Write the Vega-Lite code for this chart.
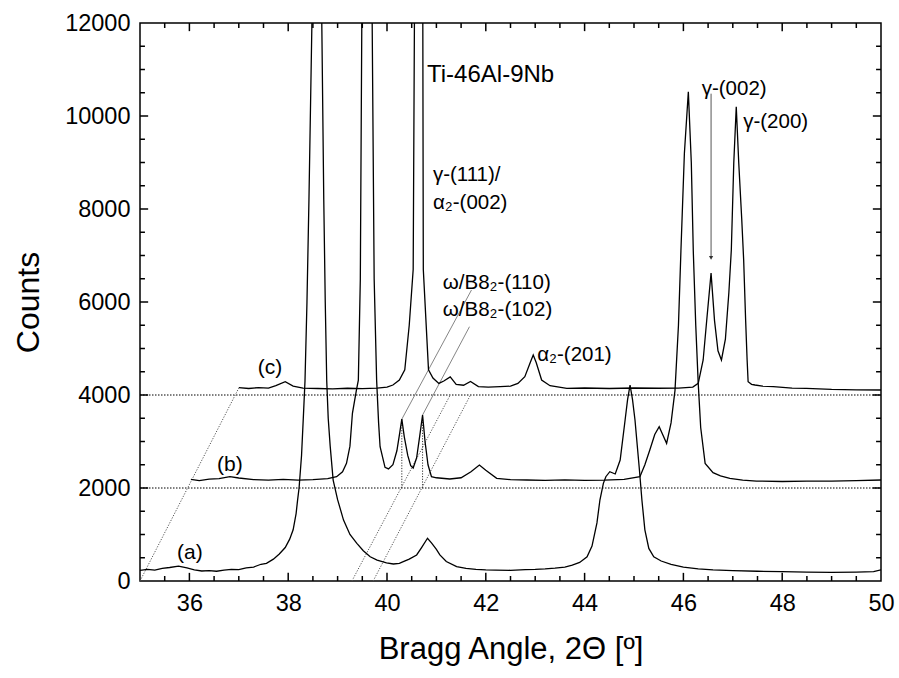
{
  "$schema": "https://vega.github.io/schema/vega-lite/v6.json",
  "width": 741,
  "height": 558,
  "autosize": {"type": "none"},
  "padding": {"left": 140, "top": 23, "right": 18, "bottom": 97},
  "background": "white",
  "config": {
    "view": {"stroke": "black", "strokeWidth": 1.5},
    "font": "Liberation Sans",
    "axis": {
      "grid": false, "domain": false, "ticks": false,
      "labelColor": "black", "labelFont": "Liberation Sans", "labelFontSize": 23.5,
      "labelFlush": false, "labelOverlap": false,
      "titleFont": "Liberation Sans", "titleFontWeight": "normal", "titleColor": "black"
    }
  },
  "datasets": {
    "xt": [
      {"v": 36, "m": "major"}, {"v": 38, "m": "major"}, {"v": 40, "m": "major"}, {"v": 42, "m": "major"},
      {"v": 44, "m": "major"}, {"v": 46, "m": "major"}, {"v": 48, "m": "major"},
      {"v": 35.5, "m": "minor"}, {"v": 36.5, "m": "minor"}, {"v": 37, "m": "minor"}, {"v": 37.5, "m": "minor"},
      {"v": 38.5, "m": "minor"}, {"v": 39, "m": "minor"}, {"v": 39.5, "m": "minor"}, {"v": 40.5, "m": "minor"},
      {"v": 41, "m": "minor"}, {"v": 41.5, "m": "minor"}, {"v": 42.5, "m": "minor"}, {"v": 43, "m": "minor"},
      {"v": 43.5, "m": "minor"}, {"v": 44.5, "m": "minor"}, {"v": 45, "m": "minor"}, {"v": 45.5, "m": "minor"},
      {"v": 46.5, "m": "minor"}, {"v": 47, "m": "minor"}, {"v": 47.5, "m": "minor"}, {"v": 48.5, "m": "minor"},
      {"v": 49, "m": "minor"}, {"v": 49.5, "m": "minor"}
    ],
    "yt": [
      {"v": 2000, "m": "major"}, {"v": 4000, "m": "major"}, {"v": 6000, "m": "major"}, {"v": 8000, "m": "major"},
      {"v": 10000, "m": "major"},
      {"v": 500, "m": "minor"}, {"v": 1000, "m": "minor"}, {"v": 1500, "m": "minor"}, {"v": 2500, "m": "minor"},
      {"v": 3000, "m": "minor"}, {"v": 3500, "m": "minor"}, {"v": 4500, "m": "minor"}, {"v": 5000, "m": "minor"},
      {"v": 5500, "m": "minor"}, {"v": 6500, "m": "minor"}, {"v": 7000, "m": "minor"}, {"v": 7500, "m": "minor"},
      {"v": 8500, "m": "minor"}, {"v": 9000, "m": "minor"}, {"v": 9500, "m": "minor"}, {"v": 10500, "m": "minor"},
      {"v": 11000, "m": "minor"}, {"v": 11500, "m": "minor"}
    ],
    "guides": [
      {"g": "h2", "k": "h", "x": 35, "y": 2000}, {"g": "h2", "k": "h", "x": 50, "y": 2000},
      {"g": "h4", "k": "h", "x": 35, "y": 4000}, {"g": "h4", "k": "h", "x": 50, "y": 4000},
      {"g": "d0", "k": "d", "x": 35.0, "y": 0}, {"g": "d0", "k": "d", "x": 37.0, "y": 4150},
      {"g": "d1", "k": "d", "x": 39.29, "y": 0}, {"g": "d1", "k": "d", "x": 41.28, "y": 4000},
      {"g": "d2", "k": "d", "x": 39.72, "y": 0}, {"g": "d2", "k": "d", "x": 41.69, "y": 4000},
      {"g": "s1", "k": "s", "x": 40.30, "y": 3480}, {"g": "s1", "k": "s", "x": 41.71, "y": 6258},
      {"g": "s2", "k": "s", "x": 40.72, "y": 3570}, {"g": "s2", "k": "s", "x": 41.67, "y": 5469},
      {"g": "v1", "k": "v", "x": 40.30, "y": 2000}, {"g": "v1", "k": "v", "x": 40.30, "y": 3480},
      {"g": "v2", "k": "v", "x": 40.72, "y": 2000}, {"g": "v2", "k": "v", "x": 40.72, "y": 3570},
      {"g": "a1", "k": "a", "x": 46.56, "y": 10480}, {"g": "a1", "k": "a", "x": 46.56, "y": 6950},
      {"g": "head", "k": "head", "x": 46.56, "y": 6950}
    ],
    "curves": [
      {"s": "a", "x": 35.0, "y": 230}, {"s": "a", "x": 35.15, "y": 250}, {"s": "a", "x": 35.3, "y": 235},
      {"s": "a", "x": 35.45, "y": 270}, {"s": "a", "x": 35.6, "y": 290}, {"s": "a", "x": 35.78, "y": 320},
      {"s": "a", "x": 35.95, "y": 280}, {"s": "a", "x": 36.1, "y": 240}, {"s": "a", "x": 36.25, "y": 215},
      {"s": "a", "x": 36.4, "y": 225}, {"s": "a", "x": 36.55, "y": 210}, {"s": "a", "x": 36.7, "y": 235},
      {"s": "a", "x": 36.85, "y": 250}, {"s": "a", "x": 37.0, "y": 245}, {"s": "a", "x": 37.15, "y": 280},
      {"s": "a", "x": 37.3, "y": 300}, {"s": "a", "x": 37.45, "y": 360}, {"s": "a", "x": 37.56, "y": 380},
      {"s": "a", "x": 37.7, "y": 470}, {"s": "a", "x": 37.82, "y": 580}, {"s": "a", "x": 37.94, "y": 720},
      {"s": "a", "x": 38.03, "y": 900}, {"s": "a", "x": 38.1, "y": 1100}, {"s": "a", "x": 38.16, "y": 1450},
      {"s": "a", "x": 38.19, "y": 1740}, {"s": "a", "x": 38.22, "y": 2000}, {"s": "a", "x": 38.27, "y": 2700},
      {"s": "a", "x": 38.31, "y": 3600}, {"s": "a", "x": 38.34, "y": 4300}, {"s": "a", "x": 38.38, "y": 6000},
      {"s": "a", "x": 38.42, "y": 8200}, {"s": "a", "x": 38.48, "y": 12000}, {"s": "a", "x": 38.58, "y": 16000},
      {"s": "a", "x": 38.68, "y": 12000}, {"s": "a", "x": 38.72, "y": 8200}, {"s": "a", "x": 38.75, "y": 6000},
      {"s": "a", "x": 38.78, "y": 4300}, {"s": "a", "x": 38.81, "y": 3500}, {"s": "a", "x": 38.85, "y": 2900},
      {"s": "a", "x": 38.91, "y": 2170}, {"s": "a", "x": 39.0, "y": 1750}, {"s": "a", "x": 39.12, "y": 1310},
      {"s": "a", "x": 39.25, "y": 1000}, {"s": "a", "x": 39.39, "y": 810}, {"s": "a", "x": 39.52, "y": 650},
      {"s": "a", "x": 39.66, "y": 520}, {"s": "a", "x": 39.8, "y": 450}, {"s": "a", "x": 39.99, "y": 390},
      {"s": "a", "x": 40.13, "y": 366}, {"s": "a", "x": 40.25, "y": 380}, {"s": "a", "x": 40.33, "y": 415},
      {"s": "a", "x": 40.45, "y": 470}, {"s": "a", "x": 40.6, "y": 560}, {"s": "a", "x": 40.7, "y": 720},
      {"s": "a", "x": 40.82, "y": 920}, {"s": "a", "x": 40.9, "y": 820}, {"s": "a", "x": 41.0, "y": 680},
      {"s": "a", "x": 41.07, "y": 560}, {"s": "a", "x": 41.2, "y": 420}, {"s": "a", "x": 41.41, "y": 310},
      {"s": "a", "x": 41.6, "y": 270}, {"s": "a", "x": 41.8, "y": 250}, {"s": "a", "x": 42.0, "y": 240},
      {"s": "a", "x": 42.2, "y": 235}, {"s": "a", "x": 42.5, "y": 230}, {"s": "a", "x": 42.8, "y": 245},
      {"s": "a", "x": 43.0, "y": 250}, {"s": "a", "x": 43.2, "y": 260}, {"s": "a", "x": 43.4, "y": 275},
      {"s": "a", "x": 43.6, "y": 300}, {"s": "a", "x": 43.75, "y": 340}, {"s": "a", "x": 43.9, "y": 400},
      {"s": "a", "x": 44.05, "y": 520}, {"s": "a", "x": 44.15, "y": 750}, {"s": "a", "x": 44.25, "y": 1250},
      {"s": "a", "x": 44.31, "y": 1742}, {"s": "a", "x": 44.38, "y": 2100}, {"s": "a", "x": 44.43, "y": 2243},
      {"s": "a", "x": 44.51, "y": 2351}, {"s": "a", "x": 44.62, "y": 2301}, {"s": "a", "x": 44.72, "y": 2602},
      {"s": "a", "x": 44.82, "y": 3462}, {"s": "a", "x": 44.87, "y": 3900}, {"s": "a", "x": 44.92, "y": 4215},
      {"s": "a", "x": 44.97, "y": 3900}, {"s": "a", "x": 45.02, "y": 3462}, {"s": "a", "x": 45.11, "y": 2387},
      {"s": "a", "x": 45.16, "y": 1742}, {"s": "a", "x": 45.22, "y": 1100}, {"s": "a", "x": 45.3, "y": 700},
      {"s": "a", "x": 45.4, "y": 520}, {"s": "a", "x": 45.55, "y": 430}, {"s": "a", "x": 45.75, "y": 360},
      {"s": "a", "x": 46.0, "y": 300}, {"s": "a", "x": 46.3, "y": 260}, {"s": "a", "x": 46.6, "y": 240},
      {"s": "a", "x": 47.0, "y": 225}, {"s": "a", "x": 47.5, "y": 210}, {"s": "a", "x": 48.0, "y": 200},
      {"s": "a", "x": 48.5, "y": 190}, {"s": "a", "x": 49.0, "y": 185}, {"s": "a", "x": 49.5, "y": 190},
      {"s": "a", "x": 49.85, "y": 200}, {"s": "a", "x": 50.0, "y": 240},

      {"s": "b", "x": 36.03, "y": 2187}, {"s": "b", "x": 36.2, "y": 2160}, {"s": "b", "x": 36.4, "y": 2190},
      {"s": "b", "x": 36.6, "y": 2200}, {"s": "b", "x": 36.82, "y": 2243}, {"s": "b", "x": 37.0, "y": 2215},
      {"s": "b", "x": 37.3, "y": 2180}, {"s": "b", "x": 37.6, "y": 2170}, {"s": "b", "x": 37.9, "y": 2185},
      {"s": "b", "x": 38.2, "y": 2170}, {"s": "b", "x": 38.5, "y": 2180}, {"s": "b", "x": 38.8, "y": 2200},
      {"s": "b", "x": 38.98, "y": 2243}, {"s": "b", "x": 39.1, "y": 2350}, {"s": "b", "x": 39.18, "y": 2531},
      {"s": "b", "x": 39.25, "y": 2900}, {"s": "b", "x": 39.3, "y": 3606}, {"s": "b", "x": 39.38, "y": 4100},
      {"s": "b", "x": 39.42, "y": 4320}, {"s": "b", "x": 39.46, "y": 6500}, {"s": "b", "x": 39.49, "y": 12000},
      {"s": "b", "x": 39.6, "y": 16000}, {"s": "b", "x": 39.70, "y": 12000}, {"s": "b", "x": 39.74, "y": 6500},
      {"s": "b", "x": 39.79, "y": 4320}, {"s": "b", "x": 39.83, "y": 3400}, {"s": "b", "x": 39.86, "y": 2888},
      {"s": "b", "x": 39.96, "y": 2443}, {"s": "b", "x": 40.03, "y": 2410}, {"s": "b", "x": 40.12, "y": 2500},
      {"s": "b", "x": 40.2, "y": 2800}, {"s": "b", "x": 40.26, "y": 3200}, {"s": "b", "x": 40.30, "y": 3480},
      {"s": "b", "x": 40.35, "y": 3100}, {"s": "b", "x": 40.42, "y": 2700}, {"s": "b", "x": 40.48, "y": 2480},
      {"s": "b", "x": 40.53, "y": 2430}, {"s": "b", "x": 40.6, "y": 2650}, {"s": "b", "x": 40.66, "y": 3100},
      {"s": "b", "x": 40.72, "y": 3570}, {"s": "b", "x": 40.77, "y": 3000}, {"s": "b", "x": 40.83, "y": 2500},
      {"s": "b", "x": 40.90, "y": 2243}, {"s": "b", "x": 41.0, "y": 2220}, {"s": "b", "x": 41.27, "y": 2194},
      {"s": "b", "x": 41.5, "y": 2220}, {"s": "b", "x": 41.7, "y": 2350}, {"s": "b", "x": 41.87, "y": 2495},
      {"s": "b", "x": 42.0, "y": 2380}, {"s": "b", "x": 42.22, "y": 2209}, {"s": "b", "x": 42.5, "y": 2180},
      {"s": "b", "x": 42.83, "y": 2172}, {"s": "b", "x": 43.2, "y": 2165}, {"s": "b", "x": 43.6, "y": 2175},
      {"s": "b", "x": 44.0, "y": 2165}, {"s": "b", "x": 44.4, "y": 2170}, {"s": "b", "x": 44.8, "y": 2185},
      {"s": "b", "x": 45.12, "y": 2243}, {"s": "b", "x": 45.22, "y": 2500}, {"s": "b", "x": 45.32, "y": 2817},
      {"s": "b", "x": 45.42, "y": 3150}, {"s": "b", "x": 45.51, "y": 3318}, {"s": "b", "x": 45.58, "y": 3150},
      {"s": "b", "x": 45.66, "y": 2961}, {"s": "b", "x": 45.75, "y": 3400}, {"s": "b", "x": 45.83, "y": 4100},
      {"s": "b", "x": 45.9, "y": 5500}, {"s": "b", "x": 45.95, "y": 7100}, {"s": "b", "x": 46.02, "y": 9200},
      {"s": "b", "x": 46.10, "y": 10520}, {"s": "b", "x": 46.16, "y": 9000}, {"s": "b", "x": 46.20, "y": 7100},
      {"s": "b", "x": 46.25, "y": 5500}, {"s": "b", "x": 46.30, "y": 4250}, {"s": "b", "x": 46.35, "y": 3300},
      {"s": "b", "x": 46.44, "y": 2530}, {"s": "b", "x": 46.6, "y": 2330}, {"s": "b", "x": 46.75, "y": 2260},
      {"s": "b", "x": 46.94, "y": 2209}, {"s": "b", "x": 47.2, "y": 2170}, {"s": "b", "x": 47.48, "y": 2150},
      {"s": "b", "x": 48.0, "y": 2140}, {"s": "b", "x": 48.5, "y": 2150}, {"s": "b", "x": 49.0, "y": 2150},
      {"s": "b", "x": 49.5, "y": 2160}, {"s": "b", "x": 50.0, "y": 2172},

      {"s": "c", "x": 37.0, "y": 4157}, {"s": "c", "x": 37.2, "y": 4140}, {"s": "c", "x": 37.4, "y": 4160},
      {"s": "c", "x": 37.6, "y": 4150}, {"s": "c", "x": 37.75, "y": 4200}, {"s": "c", "x": 37.94, "y": 4286},
      {"s": "c", "x": 38.1, "y": 4190}, {"s": "c", "x": 38.3, "y": 4150}, {"s": "c", "x": 38.6, "y": 4140},
      {"s": "c", "x": 38.9, "y": 4130}, {"s": "c", "x": 39.2, "y": 4145}, {"s": "c", "x": 39.5, "y": 4135},
      {"s": "c", "x": 39.8, "y": 4150}, {"s": "c", "x": 40.0, "y": 4170}, {"s": "c", "x": 40.12, "y": 4215},
      {"s": "c", "x": 40.25, "y": 4320}, {"s": "c", "x": 40.36, "y": 4540}, {"s": "c", "x": 40.45, "y": 5500},
      {"s": "c", "x": 40.53, "y": 6700}, {"s": "c", "x": 40.555, "y": 12000}, {"s": "c", "x": 40.64, "y": 16000},
      {"s": "c", "x": 40.725, "y": 12000}, {"s": "c", "x": 40.735, "y": 6700}, {"s": "c", "x": 40.84, "y": 4540},
      {"s": "c", "x": 40.93, "y": 4365}, {"s": "c", "x": 41.05, "y": 4250}, {"s": "c", "x": 41.15, "y": 4300},
      {"s": "c", "x": 41.28, "y": 4390}, {"s": "c", "x": 41.4, "y": 4230}, {"s": "c", "x": 41.55, "y": 4210},
      {"s": "c", "x": 41.69, "y": 4290}, {"s": "c", "x": 41.85, "y": 4180}, {"s": "c", "x": 42.05, "y": 4170},
      {"s": "c", "x": 42.29, "y": 4180}, {"s": "c", "x": 42.5, "y": 4190}, {"s": "c", "x": 42.65, "y": 4250},
      {"s": "c", "x": 42.79, "y": 4394}, {"s": "c", "x": 42.9, "y": 4700}, {"s": "c", "x": 42.96, "y": 4860},
      {"s": "c", "x": 43.02, "y": 4700}, {"s": "c", "x": 43.13, "y": 4323}, {"s": "c", "x": 43.3, "y": 4200},
      {"s": "c", "x": 43.64, "y": 4144}, {"s": "c", "x": 44.0, "y": 4150}, {"s": "c", "x": 44.5, "y": 4140},
      {"s": "c", "x": 45.0, "y": 4150}, {"s": "c", "x": 45.5, "y": 4145}, {"s": "c", "x": 45.9, "y": 4150},
      {"s": "c", "x": 46.19, "y": 4170}, {"s": "c", "x": 46.3, "y": 4251}, {"s": "c", "x": 46.40, "y": 4753},
      {"s": "c", "x": 46.48, "y": 5700}, {"s": "c", "x": 46.56, "y": 6620}, {"s": "c", "x": 46.63, "y": 5600},
      {"s": "c", "x": 46.7, "y": 4950}, {"s": "c", "x": 46.77, "y": 4753}, {"s": "c", "x": 46.85, "y": 5200},
      {"s": "c", "x": 46.92, "y": 6200}, {"s": "c", "x": 46.97, "y": 7118}, {"s": "c", "x": 47.02, "y": 9000},
      {"s": "c", "x": 47.07, "y": 10200}, {"s": "c", "x": 47.12, "y": 9000}, {"s": "c", "x": 47.18, "y": 7800},
      {"s": "c", "x": 47.22, "y": 6903}, {"s": "c", "x": 47.26, "y": 5600}, {"s": "c", "x": 47.29, "y": 4753},
      {"s": "c", "x": 47.31, "y": 4286}, {"s": "c", "x": 47.38, "y": 4230}, {"s": "c", "x": 47.45, "y": 4215},
      {"s": "c", "x": 47.6, "y": 4190}, {"s": "c", "x": 47.82, "y": 4179}, {"s": "c", "x": 48.2, "y": 4150},
      {"s": "c", "x": 48.49, "y": 4144}, {"s": "c", "x": 49.0, "y": 4120}, {"s": "c", "x": 49.5, "y": 4110},
      {"s": "c", "x": 50.0, "y": 4108}
    ],
    "labels": [
      {"k": "title", "x": 40.81, "y": 10882, "t": "Ti-46Al-9Nb"},
      {"k": "peak", "x": 40.93, "y": 8731, "t": "γ-(111)/"},
      {"k": "peak", "x": 40.93, "y": 8129, "t": "α₂-(002)"},
      {"k": "peak", "x": 41.13, "y": 6415, "t": "ω/B8₂-(110)"},
      {"k": "peak", "x": 41.13, "y": 5828, "t": "ω/B8₂-(102)"},
      {"k": "peak", "x": 43.04, "y": 4860, "t": "α₂-(201)"},
      {"k": "peak", "x": 46.37, "y": 10580, "t": "γ-(002)"},
      {"k": "peak", "x": 47.21, "y": 9870, "t": "γ-(200)"},
      {"k": "series", "x": 37.63, "y": 4580, "t": "(c)"},
      {"k": "series", "x": 36.82, "y": 2495, "t": "(b)"},
      {"k": "series", "x": 36.01, "y": 600, "t": "(a)"}
    ]
  },
  "layer": [
    {
      "data": {"name": "guides"},
      "transform": [{"filter": "datum.k === 'h'"}],
      "mark": {"type": "line", "color": "black", "strokeWidth": 1, "strokeDash": [1.5, 1.5]},
      "encoding": {
        "x": {"field": "x", "type": "quantitative", "scale": {"domain": [35, 50], "nice": false, "zero": false},
          "axis": {"orient": "bottom", "values": [36, 38, 40, 42, 44, 46, 48, 50], "labelPadding": 10,
            "title": "Bragg Angle, 2Θ [º]", "titleFontSize": 31, "titlePadding": 20}},
        "y": {"field": "y", "type": "quantitative", "scale": {"domain": [0, 12000], "nice": false},
          "axis": {"orient": "left", "values": [0, 2000, 4000, 6000, 8000, 10000, 12000], "labelPadding": 10, "format": "d",
            "title": "Counts", "titleFontSize": 32, "titlePadding": 19}},
        "detail": {"field": "g"}
      }
    },
    {
      "data": {"name": "guides"},
      "transform": [{"filter": "datum.k === 'd'"}],
      "mark": {"type": "line", "color": "#555555", "strokeWidth": 1, "strokeDash": [1.2, 1.5]},
      "encoding": {
        "x": {"field": "x", "type": "quantitative"},
        "y": {"field": "y", "type": "quantitative"},
        "detail": {"field": "g"}
      }
    },
    {
      "data": {"name": "guides"},
      "transform": [{"filter": "datum.k === 's'"}],
      "mark": {"type": "line", "color": "#666666", "strokeWidth": 0.8},
      "encoding": {
        "x": {"field": "x", "type": "quantitative"},
        "y": {"field": "y", "type": "quantitative"},
        "detail": {"field": "g"}
      }
    },
    {
      "data": {"name": "guides"},
      "transform": [{"filter": "datum.k === 'v'"}],
      "mark": {"type": "line", "color": "#333333", "strokeWidth": 1, "strokeDash": [1.2, 1.5]},
      "encoding": {
        "x": {"field": "x", "type": "quantitative"},
        "y": {"field": "y", "type": "quantitative"},
        "detail": {"field": "g"}
      }
    },
    {
      "data": {"name": "guides"},
      "transform": [{"filter": "datum.k === 'a'"}],
      "mark": {"type": "line", "color": "#555555", "strokeWidth": 1},
      "encoding": {
        "x": {"field": "x", "type": "quantitative"},
        "y": {"field": "y", "type": "quantitative"},
        "detail": {"field": "g"}
      }
    },
    {
      "data": {"name": "guides"},
      "transform": [{"filter": "datum.k === 'head'"}],
      "mark": {"type": "point", "shape": "triangle-down", "filled": true, "color": "#333333", "size": 18, "opacity": 1},
      "encoding": {
        "x": {"field": "x", "type": "quantitative"},
        "y": {"field": "y", "type": "quantitative"}
      }
    },
    {
      "data": {"name": "curves"},
      "mark": {"type": "line", "color": "black", "strokeWidth": 1.3, "clip": true},
      "encoding": {
        "x": {"field": "x", "type": "quantitative"},
        "y": {"field": "y", "type": "quantitative"},
        "detail": {"field": "s"}
      }
    },
    {
      "data": {"name": "xt"},
      "transform": [{"filter": "datum.m === 'major'"}],
      "mark": {"type": "rule", "color": "black", "strokeWidth": 1.5},
      "encoding": {"x": {"field": "v", "type": "quantitative"}, "y": {"datum": 0, "type": "quantitative"}, "y2": {"datum": 175}}
    },
    {
      "data": {"name": "xt"},
      "transform": [{"filter": "datum.m === 'major'"}],
      "mark": {"type": "rule", "color": "black", "strokeWidth": 1.5},
      "encoding": {"x": {"field": "v", "type": "quantitative"}, "y": {"datum": 12000, "type": "quantitative"}, "y2": {"datum": 11825}}
    },
    {
      "data": {"name": "xt"},
      "transform": [{"filter": "datum.m === 'minor'"}],
      "mark": {"type": "rule", "color": "black", "strokeWidth": 1.5},
      "encoding": {"x": {"field": "v", "type": "quantitative"}, "y": {"datum": 0, "type": "quantitative"}, "y2": {"datum": 108}}
    },
    {
      "data": {"name": "xt"},
      "transform": [{"filter": "datum.m === 'minor'"}],
      "mark": {"type": "rule", "color": "black", "strokeWidth": 1.5},
      "encoding": {"x": {"field": "v", "type": "quantitative"}, "y": {"datum": 12000, "type": "quantitative"}, "y2": {"datum": 11892}}
    },
    {
      "data": {"name": "yt"},
      "transform": [{"filter": "datum.m === 'major'"}],
      "mark": {"type": "rule", "color": "black", "strokeWidth": 1.5},
      "encoding": {"y": {"field": "v", "type": "quantitative"}, "x": {"datum": 35, "type": "quantitative"}, "x2": {"datum": 35.165}}
    },
    {
      "data": {"name": "yt"},
      "transform": [{"filter": "datum.m === 'major'"}],
      "mark": {"type": "rule", "color": "black", "strokeWidth": 1.5},
      "encoding": {"y": {"field": "v", "type": "quantitative"}, "x": {"datum": 50, "type": "quantitative"}, "x2": {"datum": 49.835}}
    },
    {
      "data": {"name": "yt"},
      "transform": [{"filter": "datum.m === 'minor'"}],
      "mark": {"type": "rule", "color": "black", "strokeWidth": 1.5},
      "encoding": {"y": {"field": "v", "type": "quantitative"}, "x": {"datum": 35, "type": "quantitative"}, "x2": {"datum": 35.1}}
    },
    {
      "data": {"name": "yt"},
      "transform": [{"filter": "datum.m === 'minor'"}],
      "mark": {"type": "rule", "color": "black", "strokeWidth": 1.5},
      "encoding": {"y": {"field": "v", "type": "quantitative"}, "x": {"datum": 50, "type": "quantitative"}, "x2": {"datum": 49.9}}
    },
    {
      "data": {"name": "labels"},
      "transform": [{"filter": "datum.k === 'title'"}],
      "mark": {"type": "text", "align": "left", "baseline": "middle", "font": "Liberation Sans", "fontSize": 24, "color": "black"},
      "encoding": {
        "x": {"field": "x", "type": "quantitative"},
        "y": {"field": "y", "type": "quantitative"},
        "text": {"field": "t"}
      }
    },
    {
      "data": {"name": "labels"},
      "transform": [{"filter": "datum.k === 'peak'"}],
      "mark": {"type": "text", "align": "left", "baseline": "middle", "font": "Liberation Sans", "fontSize": 20.5, "color": "black"},
      "encoding": {
        "x": {"field": "x", "type": "quantitative"},
        "y": {"field": "y", "type": "quantitative"},
        "text": {"field": "t"}
      }
    },
    {
      "data": {"name": "labels"},
      "transform": [{"filter": "datum.k === 'series'"}],
      "mark": {"type": "text", "align": "center", "baseline": "middle", "font": "Liberation Sans", "fontSize": 21, "color": "black"},
      "encoding": {
        "x": {"field": "x", "type": "quantitative"},
        "y": {"field": "y", "type": "quantitative"},
        "text": {"field": "t"}
      }
    }
  ]
}
